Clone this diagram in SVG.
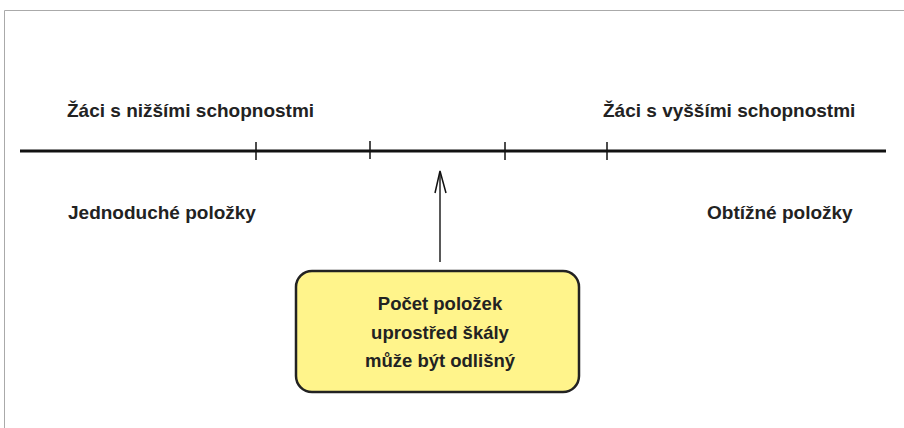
<svg xmlns="http://www.w3.org/2000/svg" width="904" height="428" viewBox="0 0 904 428">
<style>
.t{font-family:"Liberation Sans",Arial,sans-serif;font-weight:bold;font-size:19px;fill:#222}
.b{font-size:18.5px}
.c{text-anchor:middle}
.ax{stroke:#111;stroke-width:3;fill:none}
.tk{stroke:#111;stroke-width:1.5}
</style>
<rect width="904" height="428" fill="#fff"/>
<path d="M4.5 428V10.5H904" fill="none" stroke="#aaa" stroke-width="1"/>
<g id="axis">
<line class="ax" x1="20" y1="151" x2="886" y2="151"/>
<line class="tk" x1="256" y1="142" x2="256" y2="160"/>
<line class="tk" x1="370" y1="141" x2="370" y2="159"/>
<line class="tk" x1="505" y1="142" x2="505" y2="160"/>
<line class="tk" x1="607" y1="142" x2="607" y2="160"/>
</g>
<g id="labels">
<text class="t" x="67" y="117">Žáci s nižšími schopnostmi</text>
<text class="t" x="603" y="117">Žáci s vyššími schopnostmi</text>
<text class="t" x="68" y="219">Jednoduché položky</text>
<text class="t" x="707" y="219">Obtížné položky</text>
</g>
<g id="connectors">
<line x1="440" y1="262" x2="440" y2="172" stroke="#222" stroke-width="1.5"/>
<path d="M435 193L440 171L446 193" fill="none" stroke="#111" stroke-width="1.5"/>
</g>
<g id="note">
<rect x="296" y="271" width="283" height="121" rx="16" fill="#FFF48B" stroke="#222" stroke-width="2.5"/>
<text class="t b c" x="440" y="310">Počet položek</text>
<text class="t b c" x="440" y="339">uprostřed škály</text>
<text class="t b c" x="440" y="367">může být odlišný</text>
</g>
</svg>
